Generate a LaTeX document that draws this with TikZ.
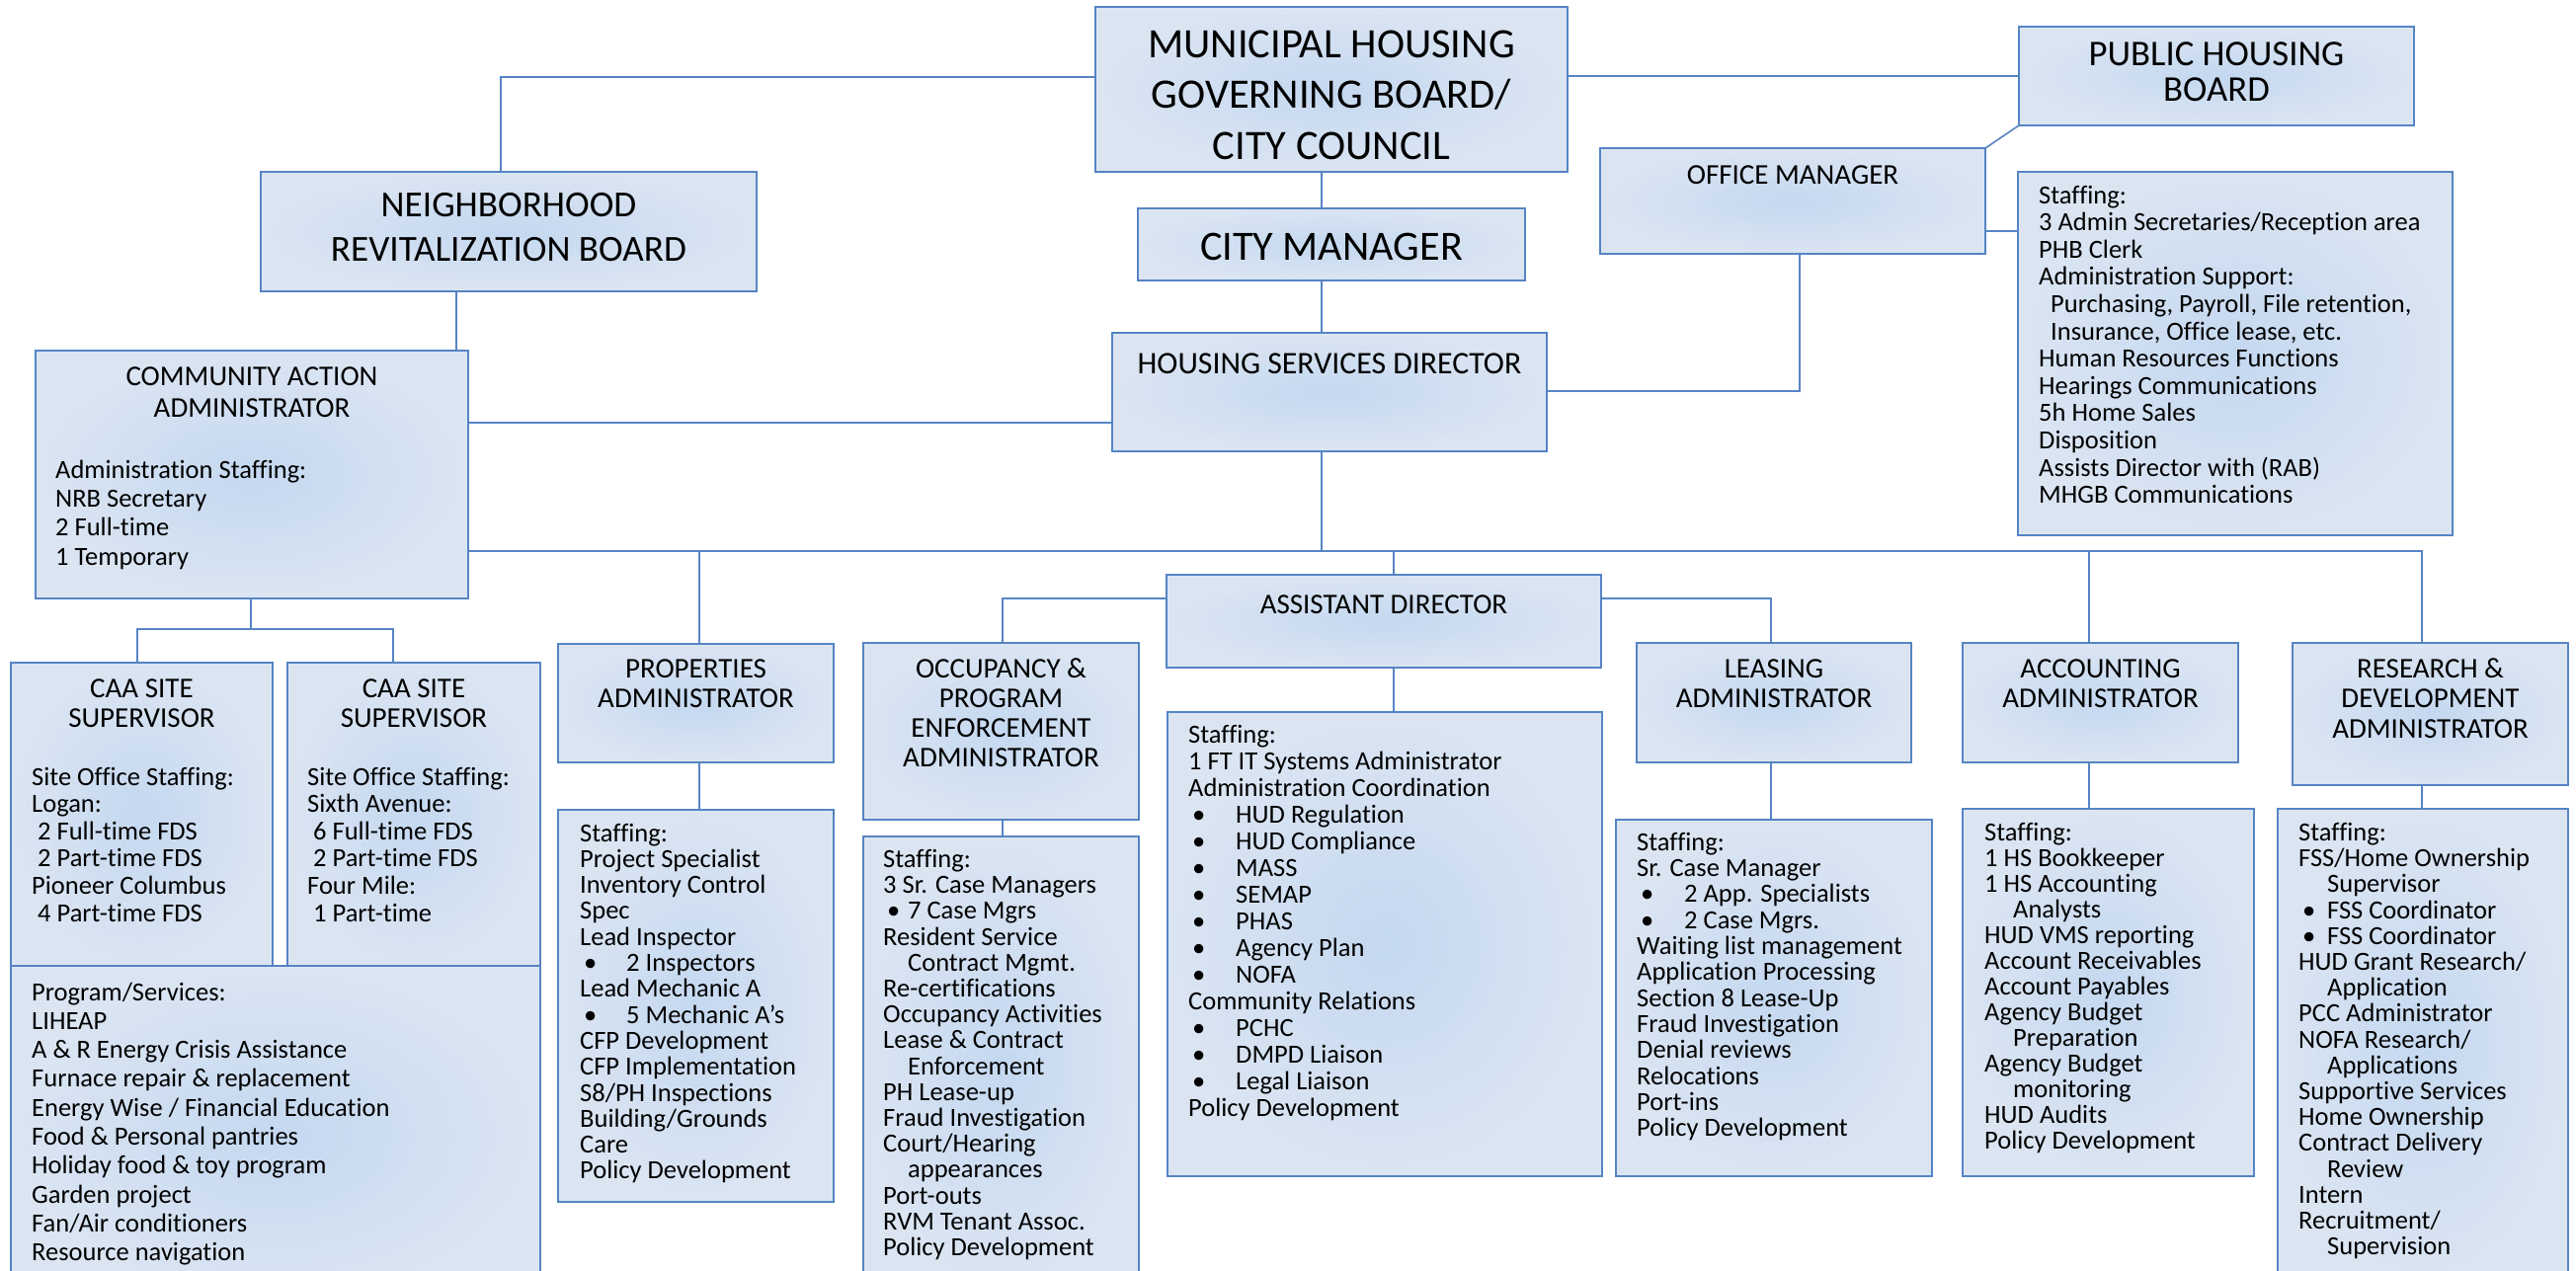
\documentclass[tikz,border=0pt]{standalone}
\usepackage{fontspec}
\setmainfont{Carlito}[Ligatures=NoCommon]

\definecolor{bdr}{RGB}{86,132,196}
\definecolor{edgec}{RGB}{219,229,242}
\definecolor{midc}{RGB}{196,216,240}

% rows of text with a fixed baseline distance; the node baseline is the first row
\newcommand\lrows[2]{\vtop{\baselineskip=#1pt\lineskiplimit=-100pt\lineskip=0pt\let\\\cr\halign{##\hfil\cr#2\crcr}}}
\newcommand\crows[2]{\vtop{\baselineskip=#1pt\lineskiplimit=-100pt\lineskip=0pt\let\\\cr\halign{\hfil##\hfil\cr#2\crcr}}}
% bullet item: bullet slightly indented, text starting #1pt from the left margin
\newcommand\bl[1]{\hskip4pt\makebox[\dimexpr#1pt-4pt\relax][l]{\textbullet}}
\newcommand\ind[1]{\hskip#1pt}

\tikzset{
  box/.style={draw=bdr, line width=2pt, inner color=midc, outer color=edgec,
              inner sep=0pt, outer sep=0pt, anchor=north west},
  conn/.style={draw=bdr, line width=1.6pt},
  body/.style={inner sep=0pt, anchor=base west, font=\fontsize{26.5}{27}\selectfont},
  ttl/.style={inner sep=0pt, anchor=base, font=\fontsize{29}{30}\selectfont},
}
\newcommand\bx[5]{\node[box, minimum width=#4pt, minimum height=#5pt] (#1) at (#2,#3) {};}

\begin{document}
\begin{tikzpicture}[x=1pt, y=-1pt]
\useasboundingbox (0,0) rectangle (2608,1286);
\clip (0,0) rectangle (2608,1286);

% ---------- boxes ----------
\bx{mhgb}{1109}{7}{478}{167}
\bx{phb}{2044}{27}{400}{100}
\bx{nrb}{264}{174}{502}{121}
\bx{cm}{1152}{211}{392}{73}
\bx{om}{1620}{150}{390}{107}
\bx{ostaff}{2043}{174}{440}{368}
\bx{caa}{36}{355}{438}{251}
\bx{hsd}{1126}{337}{440}{120}
\bx{ad}{1181}{582}{440}{94}
\bx{site1}{11}{671}{265}{307}
\bx{site2}{291}{671}{256}{307}
\bx{prog}{11}{978}{536}{340}
\bx{prop}{565}{652}{279}{120}
\bx{propst}{565}{820}{279}{397}
\bx{occ}{874}{651}{279}{179}
\bx{occst}{874}{847}{279}{460}
\bx{adst}{1182}{721}{440}{470}
\bx{lea}{1657}{651}{278}{121}
\bx{least}{1636}{830}{320}{361}
\bx{acc}{1987}{651}{279}{121}
\bx{accst}{1987}{819}{295}{372}
\bx{rd}{2321}{651}{279}{144}
\bx{rdst}{2306}{819}{294}{480}

% ---------- connectors ----------
\coordinate (bus) at (1338,558);
\draw[conn] (mhgb.west |- 0,78) -| (507,0 |- nrb.north);
\draw[conn] (mhgb.east |- phb.west) -- (phb.west);
\draw[conn] (1338,0 |- mhgb.south) -- (1338,0 |- cm.north);
\draw[conn] (1338,0 |- cm.south) -- (1338,0 |- hsd.north);
\draw[conn] (1338,0 |- hsd.south) -- (bus);
\draw[conn] (caa.east |- bus) -- (2452,558) -- (2452,0 |- rd.north);
\draw[conn] (708,0 |- bus) -- (708,0 |- prop.north);
\draw[conn] (1411,0 |- bus) -- (1411,0 |- ad.north);
\draw[conn] (2115,0 |- bus) -- (2115,0 |- acc.north);
\draw[conn] (hsd.west |- 0,428) -- (caa.east |- 0,428);
\draw[conn] (hsd.east |- 0,396) -| (1822,0 |- om.south);
\draw[conn] (om.east |- 0,234) -- (ostaff.west |- 0,234);
\draw[conn] (om.north east) -- (phb.south west);
\draw[conn] (462,0 |- nrb.south) -- (462,0 |- caa.north);
\draw[conn] (254,0 |- caa.south) -- (254,637);
\draw[conn] (139,0 |- site1.north) -- (139,637) -- (398,637) -- (398,0 |- site2.north);
\draw[conn] (708,0 |- prop.south) -- (708,0 |- propst.north);
\draw[conn] (ad.west |- 0,606) -| (1015,0 |- occ.north);
\draw[conn] (1015,0 |- occ.south) -- (1015,0 |- occst.north);
\draw[conn] (1411,0 |- ad.south) -- (1411,0 |- adst.north);
\draw[conn] (ad.east |- 0,606) -| (1793,0 |- lea.north);
\draw[conn] (1793,0 |- lea.south) -- (1793,0 |- least.north);
\draw[conn] (2115,0 |- acc.south) -- (2115,0 |- accst.north);
\draw[conn] (2452,0 |- rd.south) -- (2452,0 |- rdst.north);

% ---------- titles ----------
\node[ttl, font=\fontsize{42.4}{50}\selectfont] (t-mhgb) at (1348,58)
  {\crows{51.5}{MUNICIPAL HOUSING\\GOVERNING BOARD/\\CITY COUNCIL}};
\node[ttl, font=\fontsize{36.7}{40}\selectfont] (t-phb) at (2244,66)
  {\crows{36}{PUBLIC HOUSING\\BOARD}};
\node[ttl, font=\fontsize{37.2}{40}\selectfont] (t-nrb) at (515,219)
  {\crows{45}{NEIGHBORHOOD\\REVITALIZATION BOARD}};
\node[ttl, font=\fontsize{42.2}{46}\selectfont] (t-cm) at (1348,263) {CITY MANAGER};
\node[ttl, font=\fontsize{31.8}{34}\selectfont] (t-hsd) at (1346,378) {HOUSING SERVICES DIRECTOR};
\node[ttl] (t-om) at (1815,186) {OFFICE MANAGER};
\node[ttl] (t-ad) at (1401,621) {ASSISTANT DIRECTOR};
\node[ttl] (t-caa) at (255,390) {\crows{32}{COMMUNITY ACTION\\ADMINISTRATOR}};
\node[ttl] (t-site1) at (143.5,706) {\crows{30.5}{CAA SITE\\SUPERVISOR}};
\node[ttl] (t-site2) at (419,706) {\crows{30.5}{CAA SITE\\SUPERVISOR}};
\node[ttl] (t-prop) at (704.5,686) {\crows{30.3}{PROPERTIES\\ADMINISTRATOR}};
\node[ttl] (t-occ) at (1013.5,686) {\crows{30.3}{OCCUPANCY \&\\PROGRAM\\ENFORCEMENT\\ADMINISTRATOR}};
\node[ttl] (t-lea) at (1796,686) {\crows{30.3}{LEASING\\ADMINISTRATOR}};
\node[ttl] (t-acc) at (2126.5,686) {\crows{30.3}{ACCOUNTING\\ADMINISTRATOR}};
\node[ttl] (t-rd) at (2460.5,686) {\crows{30.5}{RESEARCH \&\\DEVELOPMENT\\ADMINISTRATOR}};

% ---------- staffing lists ----------
\node[body] (x-ostaff) at (2064,206) {\lrows{27.6}{Staffing:\\
3 Admin Secretaries/Reception area\\
PHB Clerk\\
Administration Support:\\
\ind{12}Purchasing, Payroll, File retention,\\
\ind{12}Insurance, Office lease, etc.\\
Human Resources Functions\\
Hearings Communications\\
5h Home Sales\\
Disposition\\
Assists Director with (RAB)\\
MHGB Communications}};

\node[body] (x-caa) at (56,484) {\lrows{29.4}{Administration Staffing:\\
NRB Secretary\\
2 Full-time\\
1 Temporary}};

\node[body] (x-site1) at (32,795) {\lrows{27.6}{Site Office Staffing:\\
Logan:\\
\ind{6}2 Full-time FDS\\
\ind{6}2 Part-time FDS\\
Pioneer Columbus\\
\ind{6}4 Part-time FDS}};

\node[body] (x-site2) at (311,795) {\lrows{27.6}{Site Office Staffing:\\
Sixth Avenue:\\
\ind{6}6 Full-time FDS\\
\ind{6}2 Part-time FDS\\
Four Mile:\\
\ind{6}1 Part-time}};

\node[body] (x-prog) at (32,1013) {\lrows{29.3}{Program/Services:\\
LIHEAP\\
A \& R Energy Crisis Assistance\\
Furnace repair \& replacement\\
Energy Wise / Financial Education\\
Food \& Personal pantries\\
Holiday food \& toy program\\
Garden project\\
Fan/Air conditioners\\
Resource navigation}};

\node[body] (x-prop) at (587,852) {\lrows{26.3}{Staffing:\\
Project Specialist\\
Inventory Control\\
Spec\\
Lead Inspector\\
\bl{47}2 Inspectors\\
Lead Mechanic A\\
\bl{47}5 Mechanic A’s\\
CFP Development\\
CFP Implementation\\
S8/PH Inspections\\
Building/Grounds\\
Care\\
Policy Development}};

\node[body] (x-occ) at (894,878.5) {\lrows{26.2}{Staffing:\\
3 Sr. Case Managers\\
\bl{25}7 Case Mgrs\\
Resident Service\\
\ind{25}Contract Mgmt.\\
Re-certifications\\
Occupancy Activities\\
Lease \& Contract\\
\ind{25}Enforcement\\
PH Lease-up\\
Fraud Investigation\\
Court/Hearing\\
\ind{25}appearances\\
Port-outs\\
RVM Tenant Assoc.\\
Policy Development}};

\node[body] (x-ad) at (1203,752) {\lrows{27}{Staffing:\\
1 FT IT Systems Administrator\\
Administration Coordination\\
\bl{48}HUD Regulation\\
\bl{48}HUD Compliance\\
\bl{48}MASS\\
\bl{48}SEMAP\\
\bl{48}PHAS\\
\bl{48}Agency Plan\\
\bl{48}NOFA\\
Community Relations\\
\bl{48}PCHC\\
\bl{48}DMPD Liaison\\
\bl{48}Legal Liaison\\
Policy Development}};

\node[body] (x-lea) at (1657,861) {\lrows{26.35}{Staffing:\\
Sr. Case Manager\\
\bl{48}2 App. Specialists\\
\bl{48}2 Case Mgrs.\\
Waiting list management\\
Application Processing\\
Section 8 Lease-Up\\
Fraud Investigation\\
Denial reviews\\
Relocations\\
Port-ins\\
Policy Development}};

\node[body] (x-acc) at (2009,851.5) {\lrows{26}{Staffing:\\
1 HS Bookkeeper\\
1 HS Accounting\\
\ind{29}Analysts\\
HUD VMS reporting\\
Account Receivables\\
Account Payables\\
Agency Budget\\
\ind{29}Preparation\\
Agency Budget\\
\ind{29}monitoring\\
HUD Audits\\
Policy Development}};

\node[body] (x-rd) at (2327,851.5) {\lrows{26.2}{Staffing:\\
FSS/Home Ownership\\
\ind{29}Supervisor\\
\bl{29}FSS Coordinator\\
\bl{29}FSS Coordinator\\
HUD Grant Research/\\
\ind{29}Application\\
PCC Administrator\\
NOFA Research/\\
\ind{29}Applications\\
Supportive Services\\
Home Ownership\\
Contract Delivery\\
\ind{29}Review\\
Intern\\
Recruitment/\\
\ind{29}Supervision}};
\end{tikzpicture}
\end{document}
